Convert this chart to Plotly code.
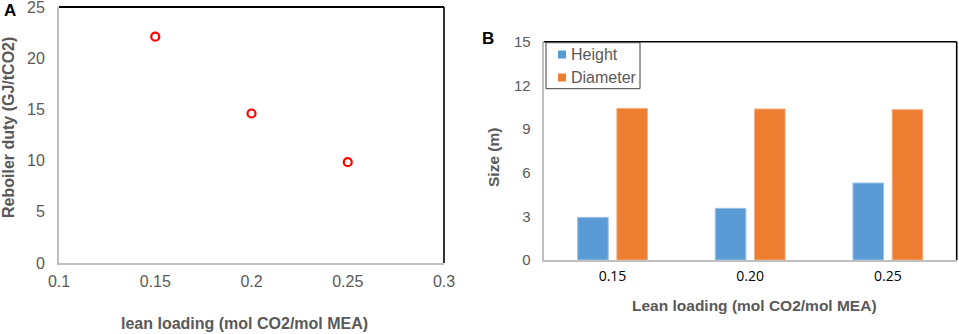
import plotly.graph_objects as go

# Panel A data
lean_loading_a = [0.15, 0.20, 0.25]
reboiler_duty = [22.1, 14.6, 9.85]

# Panel B data
categories_b = ["0.15", "0.20", "0.25"]
series_names = ["Height", "Diameter"]
height_m = [2.93, 3.55, 5.29]
diameter_m = [10.42, 10.38, 10.33]
series_colors = ["#5B9BD5", "#ED7D31"]
series_edges = ["#9DC3E6", "#F4B183"]

W, H = 959, 334
def px(x): return x / W
def py(y): return 1 - y / H

GRAY = "#595959"
AX = "#BFBFBF"
FONT = "Liberation Sans, Arial, sans-serif"

fig = go.Figure()

fig.add_trace(go.Scatter(
    x=lean_loading_a, y=reboiler_duty, mode="markers",
    marker=dict(symbol="circle-open", size=8, color="#FF0000", line=dict(width=2.2, color="#FF0000")),
    xaxis="x", yaxis="y", showlegend=False))

for name, vals, col, edge in zip(series_names, [height_m, diameter_m], series_colors, series_edges):
    fig.add_trace(go.Bar(
        x=categories_b, y=vals, name=name, showlegend=False,
        marker=dict(color=col, line=dict(color=edge, width=1)),
        xaxis="x2", yaxis="y2"))

axA = (59, 444, 7, 263)
axB = (543.7, 956.7, 41.7, 260)

common = dict(showgrid=False, zeroline=False, showline=True, linecolor=AX, linewidth=2,
              automargin=False, fixedrange=True, tickcolor="rgba(0,0,0,0)", ticks="outside",
              ticklabeloverflow="allow")

fig.update_layout(
    width=W, height=H, margin=dict(l=0, r=0, t=0, b=0, autoexpand=False),
    paper_bgcolor="white", plot_bgcolor="white",
    font=dict(family=FONT, color=GRAY),
    barmode="group", bargap=0.43, bargroupgap=0.22,
    xaxis=dict(domain=[px(axA[0]), px(axA[1])], range=[0.1, 0.3],
               tickvals=[0.1, 0.15, 0.2, 0.25, 0.3], ticktext=["0.1", "0.15", "0.2", "0.25", "0.3"],
               ticklen=3, tickfont=dict(size=16, color=GRAY, family=FONT),
               anchor="y", **common),
    yaxis=dict(domain=[py(axA[3]), py(axA[2])], range=[0, 25], dtick=5,
               ticklen=9, tickfont=dict(size=16, color=GRAY, family=FONT), anchor="x", **common),
    xaxis2=dict(domain=[px(axB[0]), px(axB[1])], type="category",
                ticklen=2, tickfont=dict(size=14, color="#000000", family="Open Sans, Liberation Sans"),
                anchor="y2", **common),
    yaxis2=dict(domain=[py(axB[3]), py(axB[2])], range=[0, 15], dtick=3,
                ticklen=8, tickfont=dict(size=15, color=GRAY, family=FONT), anchor="x2", **common),
    showlegend=False,
)

shapes = []
for (l, r, t, b), tw in ((axA, 2.2), (axB, 1.6)):
    shapes.append(dict(type="line", xref="paper", yref="paper", x0=px(l), x1=px(r), y0=py(t), y1=py(t),
                       line=dict(color="#000000", width=tw)))
    shapes.append(dict(type="line", xref="paper", yref="paper", x0=px(r), x1=px(r), y0=py(t), y1=py(b),
                       line=dict(color="#000000", width=1.6)))

# Legend box (drawn to match the reference's compact Excel-style legend)
shapes.append(dict(type="rect", xref="paper", yref="paper", x0=px(546), x1=px(640), y0=py(88.7), y1=py(42.7),
                   line=dict(color="#404040", width=1), fillcolor="white"))
ann = []
for i, (name, col) in enumerate(zip(series_names, series_colors)):
    cy = 54.5 + 23 * i
    shapes.append(dict(type="rect", xref="paper", yref="paper", x0=px(558), x1=px(566),
                       y0=py(cy + 4), y1=py(cy - 4), line=dict(width=0), fillcolor=col))
    ann.append(dict(text=name, x=px(569), y=py(cy), xanchor="left", font=dict(size=16, color=GRAY)))
fig.update_layout(shapes=shapes)

ann += [
    dict(text="<b>A</b>", x=px(10), y=py(11), font=dict(size=17, color="#000000")),
    dict(text="<b>B</b>", x=px(488), y=py(39), font=dict(size=17, color="#000000")),
    dict(text="<b>lean loading (mol CO2/mol MEA)</b>", x=px(244), y=py(323), font=dict(size=16, color=GRAY)),
    dict(text="<b>Lean loading (mol CO2/mol MEA)</b>", x=px(754), y=py(305), font=dict(size=15.5, color=GRAY)),
    dict(text="<b>Reboiler duty (GJ/tCO2)</b>", x=px(8), y=py(128), textangle=-90, font=dict(size=16, color=GRAY)),
    dict(text="<b>Size (m)</b>", x=px(493), y=py(158), textangle=-90, font=dict(size=15.5, color=GRAY)),
]
for a in ann:
    a.setdefault("xanchor", "center")
    a.update(xref="paper", yref="paper", showarrow=False, yanchor="middle")
fig.update_layout(annotations=ann)

fig.write_html("out.html", config={"displayModeBar": False},
               post_script="document.body.style.margin='0';document.body.style.overflow='hidden';")
